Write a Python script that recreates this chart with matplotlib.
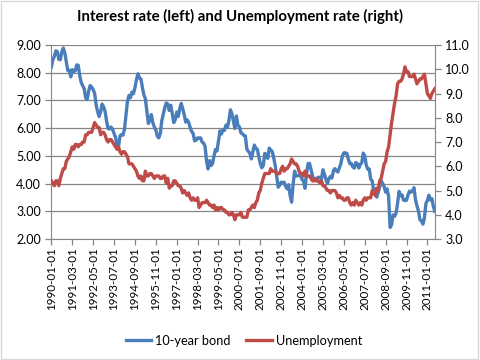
import matplotlib
matplotlib.use("Agg")
import matplotlib.pyplot as plt
import pandas as pd
from matplotlib.patches import Rectangle

plt.rcParams['font.family'] = ['Lato', 'DejaVu Sans']

# monthly, 1990-01 .. 2011-06
months = pd.date_range('1990-01-01', periods=258, freq='MS').strftime('%Y-%m-%d')

bond = [
    8.21, 8.47, 8.59, 8.79, 8.76, 8.48, 8.47, 8.75, 8.89, 8.72, 8.39, 8.08,
    8.09, 7.85, 8.11, 8.04, 8.07, 8.28, 8.27, 7.90, 7.65, 7.53, 7.42, 7.09,
    7.03, 7.34, 7.54, 7.48, 7.39, 7.26, 6.84, 6.59, 6.42, 6.59, 6.87, 6.77,
    6.60, 6.26, 5.98, 5.97, 6.04, 5.96, 5.81, 5.68, 5.36, 5.33, 5.72, 5.77,
    5.75, 5.97, 6.48, 6.97, 7.18, 7.10, 7.30, 7.24, 7.46, 7.74, 7.96, 7.81,
    7.78, 7.47, 7.20, 7.06, 6.63, 6.17, 6.28, 6.49, 6.20, 6.04, 5.93, 5.71,
    5.65, 5.81, 6.27, 6.51, 6.74, 6.91, 6.87, 6.64, 6.83, 6.53, 6.20, 6.30,
    6.58, 6.42, 6.69, 6.89, 6.71, 6.49, 6.22, 6.30, 6.21, 6.03, 5.88, 5.81,
    5.54, 5.57, 5.65, 5.64, 5.65, 5.50, 5.46, 5.34, 4.81, 4.53, 4.83, 4.65,
    4.72, 5.00, 5.23, 5.18, 5.54, 5.90, 5.79, 5.94, 5.92, 6.11, 6.03, 6.28,
    6.66, 6.52, 6.26, 5.99, 6.44, 6.10, 6.05, 5.83, 5.80, 5.74, 5.72, 5.24,
    5.16, 5.10, 4.89, 5.14, 5.39, 5.28, 5.24, 4.97, 4.73, 4.57, 4.65, 5.09,
    5.04, 4.91, 5.28, 5.21, 5.16, 4.93, 4.65, 4.26, 3.87, 3.94, 4.05, 4.03,
    4.05, 3.90, 3.81, 3.96, 3.57, 3.33, 3.98, 4.45, 4.27, 4.29, 4.30, 4.27,
    4.15, 4.08, 3.83, 4.35, 4.72, 4.73, 4.50, 4.28, 4.13, 4.10, 4.19, 4.23,
    4.22, 4.17, 4.50, 4.34, 4.14, 4.00, 4.18, 4.26, 4.20, 4.46, 4.54, 4.47,
    4.42, 4.57, 4.72, 4.99, 5.11, 5.11, 5.09, 4.88, 4.72, 4.73, 4.60, 4.56,
    4.76, 4.72, 4.56, 4.69, 4.75, 5.10, 5.00, 4.67, 4.52, 4.53, 4.15, 4.10,
    3.74, 3.74, 3.51, 3.68, 3.88, 4.10, 4.01, 3.89, 3.69, 3.81, 3.53, 2.42,
    2.52, 2.87, 2.82, 2.93, 3.29, 3.72, 3.56, 3.59, 3.40, 3.39, 3.40, 3.59,
    3.73, 3.69, 3.73, 3.85, 3.42, 3.20, 3.01, 2.70, 2.65, 2.54, 2.76, 3.29,
    3.39, 3.58, 3.41, 3.46, 3.17, 3.00,
]

unemp = [
    5.4, 5.3, 5.2, 5.4, 5.4, 5.2, 5.5, 5.7, 5.9, 5.9, 6.2, 6.3,
    6.4, 6.6, 6.8, 6.7, 6.9, 6.9, 6.8, 6.9, 6.9, 7.0, 7.0, 7.3,
    7.3, 7.4, 7.4, 7.4, 7.6, 7.8, 7.7, 7.6, 7.6, 7.3, 7.4, 7.4,
    7.3, 7.1, 7.0, 7.1, 7.1, 7.0, 6.9, 6.8, 6.7, 6.8, 6.6, 6.5,
    6.6, 6.6, 6.5, 6.4, 6.1, 6.1, 6.1, 6.0, 5.9, 5.8, 5.6, 5.5,
    5.6, 5.4, 5.4, 5.8, 5.6, 5.6, 5.7, 5.7, 5.6, 5.5, 5.6, 5.6,
    5.6, 5.5, 5.5, 5.6, 5.6, 5.3, 5.5, 5.1, 5.2, 5.2, 5.4, 5.4,
    5.3, 5.2, 5.2, 5.1, 4.9, 5.0, 4.9, 4.8, 4.9, 4.7, 4.6, 4.7,
    4.6, 4.6, 4.7, 4.3, 4.4, 4.5, 4.5, 4.5, 4.6, 4.5, 4.4, 4.4,
    4.3, 4.4, 4.2, 4.3, 4.2, 4.3, 4.3, 4.2, 4.2, 4.1, 4.1, 4.0,
    4.0, 4.1, 4.0, 3.8, 4.0, 4.0, 4.0, 4.1, 3.9, 3.9, 3.9, 3.9,
    4.2, 4.2, 4.3, 4.4, 4.3, 4.5, 4.6, 4.9, 5.0, 5.3, 5.5, 5.7,
    5.7, 5.7, 5.7, 5.9, 5.8, 5.8, 5.8, 5.7, 5.7, 5.7, 5.9, 6.0,
    5.8, 5.9, 5.9, 6.0, 6.1, 6.3, 6.2, 6.1, 6.1, 6.0, 5.8, 5.7,
    5.7, 5.6, 5.8, 5.6, 5.6, 5.6, 5.5, 5.4, 5.4, 5.5, 5.4, 5.4,
    5.3, 5.4, 5.2, 5.2, 5.1, 5.0, 5.0, 4.9, 5.0, 5.0, 5.0, 4.9,
    4.7, 4.8, 4.7, 4.7, 4.6, 4.6, 4.7, 4.7, 4.5, 4.4, 4.5, 4.4,
    4.6, 4.5, 4.4, 4.5, 4.4, 4.6, 4.7, 4.6, 4.7, 4.7, 4.7, 5.0,
    4.9, 4.8, 5.1, 5.0, 5.4, 5.5, 5.8, 6.1, 6.2, 6.6, 6.8, 7.3,
    7.8, 8.2, 8.6, 8.9, 9.4, 9.5, 9.5, 9.6, 9.8, 10.1, 9.9, 9.9,
    9.7, 9.7, 9.7, 9.8, 9.6, 9.4, 9.5, 9.6, 9.6, 9.7, 9.8, 9.4,
    9.0, 8.9, 8.8, 9.0, 9.1, 9.2,
]

blue = '#4A7EBB'
red = '#BE4B48'
gray = '#868686'

fig = plt.figure(figsize=(4.8, 3.6), dpi=100)
ax = fig.add_axes([0.107, 0.336, 0.799, 0.539])
ax2 = ax.twinx()

x = range(len(months))
l1, = ax.plot(x, bond, color=blue, lw=2.4, label='10-year bond', solid_joinstyle='round')
l2, = ax2.plot(x, unemp, color=red, lw=2.4, label='Unemployment', solid_joinstyle='round')

ax.set_xlim(0, len(months) - 1)
ax.set_ylim(2, 9)
ax2.set_ylim(3, 11)
ax.set_yticks([2, 3, 4, 5, 6, 7, 8, 9])
ax.set_yticklabels(['%.2f' % v for v in [2, 3, 4, 5, 6, 7, 8, 9]])
ax2.set_yticks(range(3, 12))
ax2.set_yticklabels(['%.1f' % v for v in range(3, 12)])

# category labels every 14 months
pos = list(range(0, len(months), 14))
ax.set_xticks(pos)
ax.set_xticklabels([months[i] for i in pos], rotation=90)

ax.grid(axis='y', color=gray, lw=0.9)
ax.set_axisbelow(True)
for a in (ax, ax2):
    for s in a.spines.values():
        s.set_visible(False)
    a.tick_params(colors=gray, labelcolor='black', labelsize=9, length=4, width=0.9)
ax.tick_params(axis='x', labelsize=8.4, pad=2)
ax.spines['left'].set_visible(True)
ax.spines['bottom'].set_visible(True)
ax2.spines['right'].set_visible(True)
ax.spines['left'].set_color(gray)
ax.spines['bottom'].set_color(gray)
ax2.spines['right'].set_color(gray)

fig.suptitle('Interest rate (left) and Unemployment rate (right)', y=0.975,
             fontsize=10.8, fontweight='bold')
fig.legend(handles=[l1, l2], loc='center', bbox_to_anchor=(0.508, 0.053), ncol=2,
           frameon=False, fontsize=9.2, handlelength=2.0, handletextpad=0.3,
           columnspacing=1.2)

fig.patches.append(Rectangle((0.002, 0.003), 0.994, 0.994, transform=fig.transFigure,
                             fill=False, edgecolor='#D9D9D9', lw=1))

fig.savefig('out.png', dpi=100)
